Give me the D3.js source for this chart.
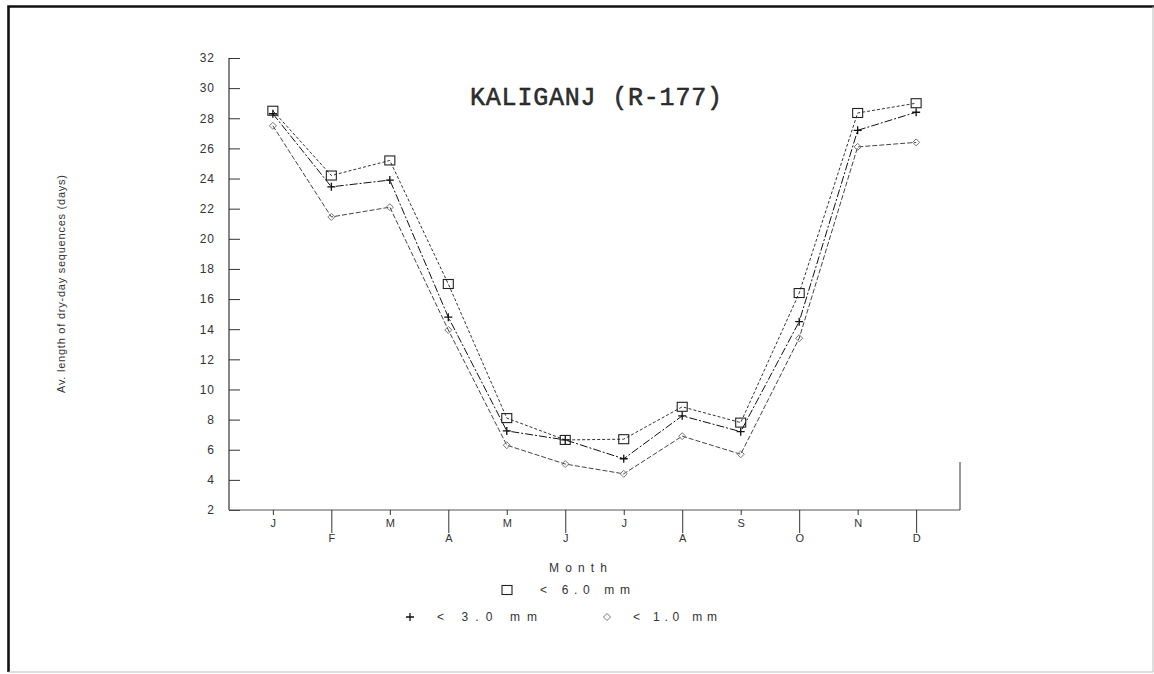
<!DOCTYPE html>
<html>
<head>
<meta charset="utf-8">
<script src="https://cdn.jsdelivr.net/npm/d3@7/dist/d3.min.js"></script>
<style>
  html, body { margin: 0; padding: 0; background: #fff; }
  svg { display: block; }
  text { font-family: "Liberation Sans", "DejaVu Sans", sans-serif; fill: #333; }
</style>
</head>
<body>
<svg id="chart" width="1154" height="674"></svg>
<script>
// Months along the x axis
const months = ["J", "F", "M", "A", "M", "J", "J", "A", "S", "O", "N", "D"];

// Average length of dry-day sequences (days) by daily rainfall threshold
const below6mm = [28.5, 24.2, 25.2, 17.0, 8.1, 6.65, 6.7, 8.85, 7.8, 16.4, 28.35, 29.0];
const below3mm = [28.3, 23.45, 23.9, 14.8, 7.25, 6.65, 5.4, 8.25, 7.2, 14.5, 27.2, 28.4];
const below1mm = [27.5, 21.45, 22.1, 13.95, 6.3, 5.05, 4.4, 6.9, 5.7, 13.4, 26.1, 26.4];

// Y axis tick values
const yTicks = [2, 4, 6, 8, 10, 12, 14, 16, 18, 20, 22, 24, 26, 28, 30, 32];

const svg = d3.select("#chart");

// Outer frame
svg.append("path")
  .attr("d", "M8.5,672 L8.5,6.5 L1154,6.5")
  .attr("fill", "none").attr("stroke", "#111").attr("stroke-width", 2.6);
svg.append("path")
  .attr("d", "M8.5,672 L1153,672 L1153,6.5")
  .attr("fill", "none").attr("stroke", "#bbb").attr("stroke-width", 1);

const plotLeft = 229, plotRight = 960, plotTop = 58, plotBottom = 510;

const x = d3.scalePoint()
  .domain(d3.range(months.length))
  .range([plotLeft, plotRight])
  .padding(0.75);

const y = d3.scaleLinear().domain([2, 32]).range([plotBottom, plotTop]);

// Y axis: ticks point inward
const yAxis = d3.axisLeft(y).tickValues(yTicks).tickSize(-11).tickPadding(14)
  .tickFormat(d => String(d));
const gy = svg.append("g").attr("transform", `translate(${plotLeft},0)`).call(yAxis);
gy.select(".domain").remove();
gy.selectAll(".tick line").attr("stroke", "#333").attr("stroke-width", 1);
gy.selectAll(".tick text")
  .style("font-size", "12px").style("letter-spacing", "1px").attr("fill", "#333");
svg.append("line")
  .attr("x1", plotLeft).attr("x2", plotLeft).attr("y1", plotTop).attr("y2", plotBottom)
  .attr("stroke", "#222").attr("stroke-width", 1.1);

// X axis baseline with alternating short/long ticks and staggered labels
svg.append("line")
  .attr("x1", plotLeft).attr("x2", plotRight).attr("y1", plotBottom).attr("y2", plotBottom)
  .attr("stroke", "#555").attr("stroke-width", 1);
svg.append("line")
  .attr("x1", plotRight).attr("x2", plotRight).attr("y1", 462).attr("y2", plotBottom)
  .attr("stroke", "#333").attr("stroke-width", 1);

const xAxis = d3.axisBottom(x).tickSize(0).tickFormat(i => months[i]);
const gx = svg.append("g").attr("transform", `translate(0,${plotBottom})`).call(xAxis);
gx.select(".domain").remove();
gx.selectAll(".tick line")
  .attr("y2", i => (i % 2 === 0 ? 5 : 23))
  .attr("stroke", "#333").attr("stroke-width", 1);
gx.selectAll(".tick text")
  .attr("y", i => (i % 2 === 0 ? 9 : 24))
  .style("font-size", "11px").attr("fill", "#333");

// Title
svg.append("text")
  .attr("x", 596).attr("y", 105)
  .attr("text-anchor", "middle")
  .attr("textLength", 252).attr("lengthAdjust", "spacing")
  .style("font-family", "'Liberation Mono', 'DejaVu Sans Mono', monospace")
  .style("font-size", "25px")
  .attr("fill", "#111").attr("stroke", "#111").attr("stroke-width", 0.5)
  .text("KALIGANJ (R-177)");

// Y axis label
svg.append("text")
  .attr("transform", "translate(65,284) rotate(-90)")
  .attr("text-anchor", "middle")
  .attr("textLength", 218).attr("lengthAdjust", "spacing")
  .style("font-size", "11px").attr("fill", "#333")
  .text("Av. length of dry-day sequences (days)");

// Series lines and markers
const line = d3.line().x((d, i) => x(i)).y(d => y(d));

const series = [
  { values: below6mm, dash: "3,2", stroke: "#333", marker: "square" },
  { values: below3mm, dash: "8,2,2,2", stroke: "#111", marker: "plus" },
  { values: below1mm, dash: "5,2", stroke: "#444", marker: "diamond" }
];

function drawMarker(g, type, cx, cy) {
  if (type === "square") {
    g.append("rect").attr("x", cx - 5).attr("y", cy - 4.5).attr("width", 10).attr("height", 9)
      .attr("fill", "none").attr("stroke", "#222").attr("stroke-width", 1.1);
  } else if (type === "plus") {
    g.append("path").attr("d", `M${cx - 4},${cy}H${cx + 4}M${cx},${cy - 4}V${cy + 4}`)
      .attr("fill", "none").attr("stroke", "#111").attr("stroke-width", 1.3);
  } else {
    g.append("path").attr("d", `M${cx},${cy - 3.5}L${cx + 3.5},${cy}L${cx},${cy + 3.5}L${cx - 3.5},${cy}Z`)
      .attr("fill", "none").attr("stroke", "#777").attr("stroke-width", 1);
  }
}

series.forEach(s => {
  svg.append("path")
    .datum(s.values)
    .attr("d", line)
    .attr("fill", "none")
    .attr("stroke", s.stroke)
    .attr("stroke-width", 1)
    .attr("stroke-dasharray", s.dash);
  const g = svg.append("g");
  s.values.forEach((v, i) => drawMarker(g, s.marker, x(i), y(v)));
});

// Legend
const legendFont = "12px";
svg.append("text").attr("x", 578).attr("y", 572).attr("text-anchor", "middle")
  .attr("textLength", 58).attr("lengthAdjust", "spacing")
  .style("font-size", legendFont).text("Month");

const lg = svg.append("g");
drawMarker(lg, "square", 507, 590);
lg.append("text").attr("x", 540).attr("y", 594)
  .attr("textLength", 90).attr("lengthAdjust", "spacing")
  .style("font-size", legendFont).text("< 6.0 mm");
drawMarker(lg, "plus", 410, 617);
lg.append("text").attr("x", 437).attr("y", 621)
  .attr("textLength", 100).attr("lengthAdjust", "spacing")
  .style("font-size", legendFont).text("< 3.0 mm");
drawMarker(lg, "diamond", 607, 617);
lg.append("text").attr("x", 633).attr("y", 621)
  .attr("textLength", 84).attr("lengthAdjust", "spacing")
  .style("font-size", legendFont).text("< 1.0 mm");
</script>
</body>
</html>
